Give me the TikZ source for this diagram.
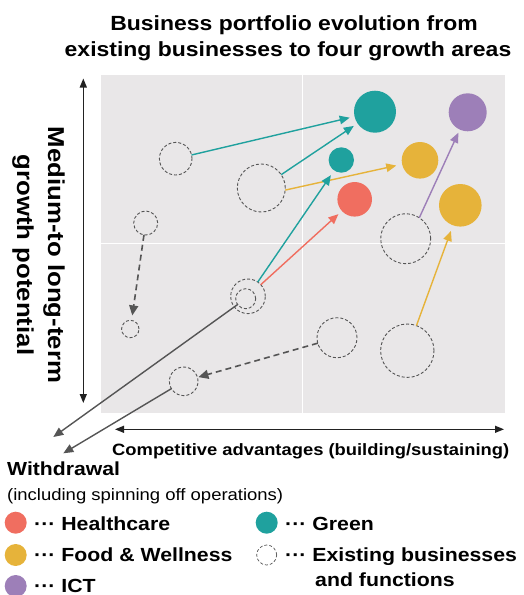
\documentclass[tikz,border=0pt]{standalone}
\usepackage{fontspec}
\setmainfont{Liberation Sans}[FakeStretch=1.12]
\usetikzlibrary{arrows.meta}
\definecolor{bgc}{HTML}{E9E7E8}
\definecolor{cteal}{HTML}{1FA19E}
\definecolor{cpurple}{HTML}{9D7FB8}
\definecolor{cyellow}{HTML}{E6B33A}
\definecolor{cred}{HTML}{F06E60}
\definecolor{cgray}{HTML}{555555}
\definecolor{caxis}{HTML}{222222}
\begin{document}
\begin{tikzpicture}[x=1pt,y=-1pt,
  dc/.style={circle,draw=cgray,line width=0.9pt,dash pattern=on 3pt off 2pt,inner sep=0pt,outer sep=0pt},
  fc/.style={circle,inner sep=0pt,outer sep=0pt,draw=none},
  arr/.style={line width=1.4pt,-{Triangle[length=10pt,width=8.5pt]}},
  darr/.style={line width=1.6pt,cgray,dash pattern=on 6pt off 4pt,-{Triangle[length=10pt,width=9pt]}},
  warr/.style={line width=1.4pt,cgray,-{Triangle[length=10pt,width=8.5pt]}},
  axarr/.style={line width=1.2pt,caxis,{Triangle[length=9pt,width=7pt]}-{Triangle[length=9pt,width=7pt]}},
  ttl/.style={font=\fontsize{20.5}{24}\selectfont\bfseries,anchor=base,inner sep=0pt},
  lgd/.style={font=\fontsize{19}{22}\selectfont\bfseries,anchor=base west,inner sep=0pt}
]
\useasboundingbox (0,0) rectangle (523,595);
% title
\node[ttl] (t1) at (294,30) {Business portfolio evolution from};
\node[ttl] (t2) at (288,56) {existing businesses to four growth areas};
% panel
\fill[bgc] (101,75) rectangle (505,413);
\draw[white,line width=1pt] (302,75) -- (302,413);
\draw[white,line width=1pt] (101,243.5) -- (505,243.5);
% axes
\coordinate (ytop) at (83.3,78.5);
\coordinate (ybot) at (83.3,403);
\draw[axarr] (ytop) -- (ybot);
\coordinate (xl) at (115,429.3);
\coordinate (xr) at (504,429.3);
\draw[axarr] (xl) -- (xr);
\node[rotate=-90,font=\fontsize{23}{31}\selectfont\bfseries,align=center,inner sep=0pt] (ylab) at (38.5,255) {Medium-to long-term\\growth potential};
\node[font=\fontsize{16.4}{20}\selectfont\bfseries,anchor=base west,inner sep=0pt] (xlab) at (112,455) {Competitive advantages (building/sustaining)};
% growth circles
\node[fc,fill=cteal,minimum size=42pt] (T1) at (375,111.7) {};
\node[fc,fill=cpurple,minimum size=38pt] (P) at (467.7,112.3) {};
\node[fc,fill=cteal,minimum size=25.4pt] (T2) at (341.3,160) {};
\node[fc,fill=cyellow,minimum size=36.6pt] (Y1) at (420,160.3) {};
\node[fc,fill=cred,minimum size=34.6pt] (R) at (354.7,199.3) {};
\node[fc,fill=cyellow,minimum size=42.6pt] (Y2) at (460.3,205.3) {};
% existing
\node[dc,minimum size=32.6pt] (A) at (175.7,158.7) {};
\node[dc,minimum size=48pt] (B) at (261.3,188) {};
\node[dc,minimum size=24pt] (C) at (145.7,223) {};
\node[dc,minimum size=50pt] (D) at (405.7,238.7) {};
\node[dc,minimum size=34.6pt] (E) at (248,296.3) {};
\node[dc,minimum size=20pt] (Ei) at (245.7,298.7) {};
\node[dc,minimum size=17.4pt] (F) at (130.3,329) {};
\node[dc,minimum size=40pt] (G) at (337,337.7) {};
\node[dc,minimum size=53.4pt] (H) at (407.3,350.7) {};
\node[dc,minimum size=28.6pt] (I) at (183.7,381.3) {};
% arrows
\draw[arr,cteal,shorten >=5pt] (A) -- (T1);
\draw[arr,cteal,shorten >=4.5pt] (B) -- (T1);
\draw[arr,cyellow,shorten >=6pt] (B.-5) -- (Y1);
\draw[arr,cteal,shorten >=5.7pt] (E) -- (T2);
\draw[arr,cred,shorten >=4.7pt] (E) -- (R);
\draw[arr,cpurple,shorten >=3.5pt] (D.57) -- (P);
\draw[arr,cyellow,shorten >=6pt] (H) -- (Y2);
\draw[darr,shorten >=5pt] (C) -- (F);
\draw[darr,shorten >=1pt] (G) -- (I);
\coordinate (w1) at (53.3,437);
\coordinate (w2) at (63.3,453.3);
\draw[warr] (Ei) -- (w1);
\draw[warr] (I) -- (w2);
% withdrawal text
\node[font=\fontsize{18.9}{22}\selectfont\bfseries,anchor=base west,inner sep=0pt] (wd) at (7,475) {Withdrawal};
\node[font=\fontsize{16.5}{20}\selectfont,anchor=base west,inner sep=0pt] (wd2) at (7,500) {(including spinning off operations)};
% legend
\node[fc,fill=cred,minimum size=22pt] (lr) at (15.7,522.7) {};
\node[lgd] (lrt) at (34,530) {··· Healthcare};
\node[fc,fill=cyellow,minimum size=22pt] (ly) at (15.7,555) {};
\node[lgd] (lyt) at (34,561.7) {··· Food \& Wellness};
\node[fc,fill=cpurple,minimum size=22pt] (lp) at (15.7,586) {};
\node[lgd] (lpt) at (34,592) {··· ICT};
\node[fc,fill=cteal,minimum size=22pt] (lt) at (266.7,522.7) {};
\node[lgd] (ltt) at (285,530) {··· Green};
\node[dc,minimum size=20pt,line width=0.7pt] (le) at (266.7,555) {};
\node[lgd] (let) at (285,561.7) {··· Existing businesses};
\node[lgd] (let2) at (315,586.7) {and functions};
\end{tikzpicture}
\end{document}
